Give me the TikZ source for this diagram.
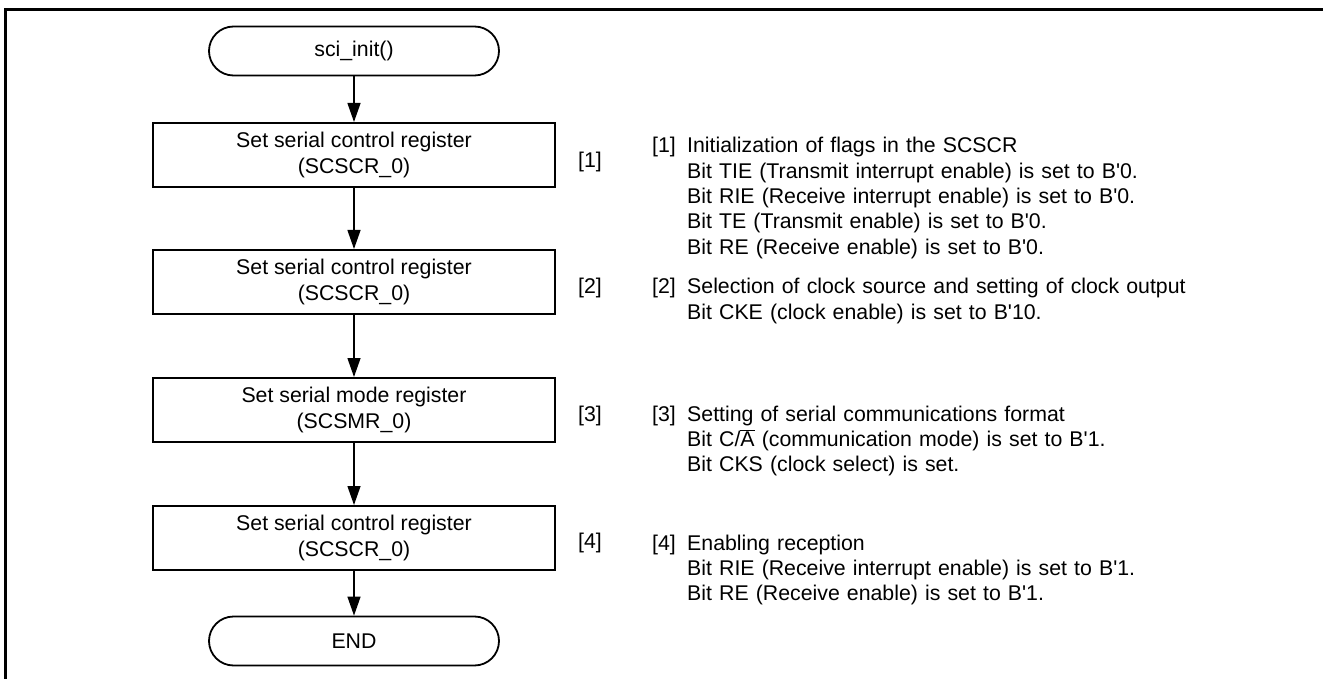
\documentclass[tikz,border=0pt]{standalone}
\usepackage{fontspec}
\setmainfont{Liberation Sans}
\usetikzlibrary{shapes.misc,arrows.meta}
\newcommand{\bq}{\textquotesingle}
\tikzset{
	term/.style={draw, line width=1.8pt, rounded rectangle, minimum width=290pt, minimum height=49pt, inner sep=0pt},
	proc/.style={draw, line width=2pt, rectangle, minimum width=402pt, minimum height=64pt, align=center, inner sep=0pt},
	flow/.style={line width=1.3pt, -{Triangle[length=19pt,width=13pt]}},
	notenum/.style={anchor=base west, inner sep=0pt},
	notetext/.style={anchor=base west, inner sep=0pt, text width=620pt, align=left, font=\fontsize{21.3}{25.3}\selectfont}
}
\begin{document}
\begin{tikzpicture}[x=1pt, y=-1pt, font=\fontsize{21.3}{26}\selectfont]
	\useasboundingbox (0,0) rectangle (1323,679); % Rand
	\draw[line width=3pt] (1330,10) -- (5,10) -- (5,690); % Rahmen
	
	% Ablauf
	\node[term] (start) at (354,51) {sci\_init()};
	\node[proc] (scr1) at (354,155) {Set serial control register\\(SCSCR\_0)};
	\node[proc] (scr2) at (354,282) {Set serial control register\\(SCSCR\_0)};
	\node[proc] (smr) at (354,410) {Set serial mode register\\(SCSMR\_0)};
	\node[proc] (scr3) at (354,538) {Set serial control register\\(SCSCR\_0)};
	\node[term] (stop) at (354,641) {END};
	
	\foreach \a/\b in {start/scr1, scr1/scr2, scr2/smr, smr/scr3, scr3/stop}
		\draw[flow] (\a) -- (\b);
	
	% Nummern neben den Kaesten
	\foreach \i/\y in {1/162, 2/288, 3/416, 4/543}
		\node[anchor=west, inner sep=0pt] (lab\i) at (578,\y) {[\i]};
	
	% Erklaerungen
	\node[notenum] (num1) at (652,153) {[1]};
	\node[notetext] (note1) at (687,153) {Initialization of flags in the SCSCR\\
		Bit TIE (Transmit interrupt enable) is set to B\bq0.\\
		Bit RIE (Receive interrupt enable) is set to B\bq0.\\
		Bit TE (Transmit enable) is set to B\bq0.\\
		Bit RE (Receive enable) is set to B\bq0.};
	
	\node[notenum] (num2) at (652,294) {[2]};
	\node[notetext] (note2) at (687,294) {Selection of clock source and setting of clock output\\
		Bit CKE (clock enable) is set to B\bq10.};
	
	\node[notenum] (num3) at (652,421) {[3]};
	\node[notetext] (note3) at (687,421) {Setting of serial communications format\\
		Bit C/$\overline{\mbox{A}}$ (communication mode) is set to B\bq1.\\
		Bit CKS (clock select) is set.};
	
	\node[notenum] (num4) at (652,550) {[4]};
	\node[notetext] (note4) at (687,550) {Enabling reception\\
		Bit RIE (Receive interrupt enable) is set to B\bq1.\\
		Bit RE (Receive enable) is set to B\bq1.};
	
	%\draw[help lines, step=50] (0,0) grid (1323,679);
\end{tikzpicture}
\end{document}
